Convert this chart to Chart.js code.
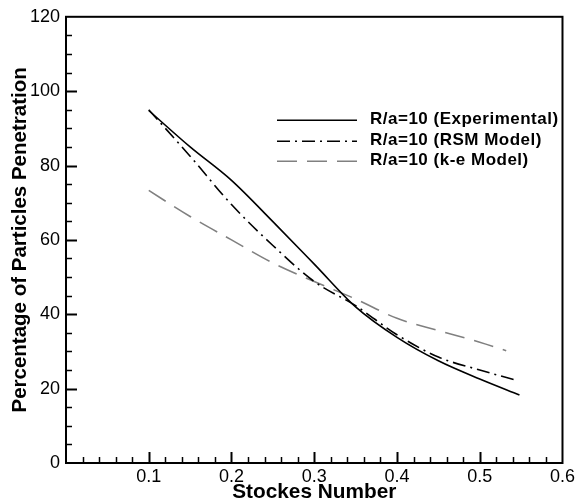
<!DOCTYPE html>
<html>
<head>
<meta charset="utf-8">
<script src="https://cdn.jsdelivr.net/npm/chart.js@4.4.1/dist/chart.umd.min.js"></script>
<style>
html,body{margin:0;padding:0;background:#fff;}
#wrap{width:578px;height:504px;}
</style>
</head>
<body>
<div id="wrap"><canvas id="c" width="578" height="504"></canvas></div>
<script>
// ---- data ----
const stokesExp = [0.1, 0.15, 0.2, 0.25, 0.3, 0.35, 0.4, 0.45, 0.5, 0.548];
const penExp    = [94.8, 85, 76, 64.9, 53.5, 42, 33.8, 27.5, 22.6, 18.3];

const stokesRSM = [0.1, 0.15, 0.2, 0.25, 0.3, 0.35, 0.4, 0.45, 0.5, 0.542];
const penRSM    = [95, 82.5, 69.5, 58.5, 48.8, 42.3, 34.5, 28.5, 25, 22.4];

const stokesKE  = [0.1, 0.15, 0.2, 0.25, 0.3, 0.35, 0.4, 0.45, 0.5, 0.532];
const penKE     = [73.3, 66.3, 60, 53.8, 48.8, 44.1, 38.9, 35.6, 32.5, 30.2];

const seriesLabels = ['R/a=10 (Experimental)', 'R/a=10 (RSM Model)', 'R/a=10 (k-e Model)'];
const xTickValues = [0.1, 0.2, 0.3, 0.4, 0.5, 0.6];
const yTickValues = [0, 20, 40, 60, 80, 100, 120];

const toPts = (xs, ys) => xs.map((x, i) => ({x: x, y: ys[i]}));

const styles = [
  {color: '#000000', dash: [], width: 1.6},
  {color: '#000000', dash: [13, 5, 2, 5], width: 1.6},
  {color: '#808080', dash: [20, 10], width: 1.6}
];

const FONT = '"Liberation Sans", Arial, sans-serif';

const frameTicks = {
  id: 'frameTicks',
  afterDraw(chart) {
    const {ctx, chartArea: a, scales: {x, y}} = chart;
    ctx.save();
    ctx.strokeStyle = '#000';
    for (let i = 1; i < 30; i++) {
      const v = i * 0.02;
      const px = Math.round(x.getPixelForValue(v)) + 0.5;
      const major = (i % 5 === 0);
      const len = major ? 11 : 6;
      ctx.lineWidth = major ? 2 : 1.5;
      ctx.beginPath();
      ctx.moveTo(px, a.bottom);
      ctx.lineTo(px, a.bottom - len);
      ctx.stroke();
    }
    for (let i = 1; i < 24; i++) {
      const v = i * 5;
      const py = Math.round(y.getPixelForValue(v)) + 0.5;
      const major = (i % 4 === 0);
      const len = major ? 11 : 6;
      ctx.lineWidth = major ? 2 : 1.5;
      ctx.beginPath();
      ctx.moveTo(a.left, py);
      ctx.lineTo(a.left + len, py);
      ctx.stroke();
    }
    ctx.lineWidth = 2;
    ctx.strokeRect(a.left, a.top, a.right - a.left, a.bottom - a.top);

    // legend
    const lx0 = a.left + 211, lx1 = a.left + 291, tx = a.left + 304;
    const rows = [a.top + 103, a.top + 124, a.top + 144];
    ctx.font = 'bold 17px ' + FONT;
    try { ctx.letterSpacing = '0.5px'; } catch (e) {}
    ctx.textBaseline = 'middle';
    ctx.textAlign = 'left';
    rows.forEach((ry, i) => {
      const s = styles[i];
      ctx.strokeStyle = s.color;
      ctx.lineWidth = s.width;
      ctx.setLineDash(s.dash);
      ctx.beginPath();
      ctx.moveTo(lx0, ry + 0.5);
      ctx.lineTo(lx1, ry + 0.5);
      ctx.stroke();
      ctx.setLineDash([]);
      ctx.fillStyle = '#000';
      ctx.fillText(seriesLabels[i], tx, ry);
    });
    ctx.restore();
  }
};

const dsets = [
  toPts(stokesExp, penExp),
  toPts(stokesRSM, penRSM),
  toPts(stokesKE, penKE)
].map((d, i) => ({
  label: seriesLabels[i],
  data: d,
  borderColor: styles[i].color,
  borderDash: styles[i].dash,
  borderWidth: styles[i].width,
  pointRadius: 0,
  fill: false,
  cubicInterpolationMode: 'monotone'
}));

new Chart(document.getElementById('c'), {
  type: 'line',
  data: {datasets: dsets},
  options: {
    responsive: false,
    animation: false,
    layout: {padding: {top: 14, right: 13, left: 0, bottom: 0}},
    plugins: {legend: {display: false}, tooltip: {enabled: false}},
    scales: {
      x: {
        type: 'linear', min: 0, max: 0.6,
        afterBuildTicks(s) { s.ticks = xTickValues.map(v => ({value: v})); },
        afterFit(s) { s.height = 41; },
        grid: {display: false, drawTicks: false, tickLength: 0},
        border: {display: false},
        ticks: {
          color: '#000', padding: 3, maxRotation: 0, autoSkip: false,
          font: {family: FONT, size: 18},
          callback: v => v.toFixed(1)
        },
        title: {
          display: true, text: 'Stockes Number', color: '#000',
          padding: {top: 0, bottom: -1},
          font: {family: FONT, size: 20.8, weight: 'bold'}
        }
      },
      y: {
        type: 'linear', min: 0, max: 120,
        afterBuildTicks(s) { s.ticks = yTickValues.map(v => ({value: v})); },
        afterFit(s) { s.width = 66; },
        grid: {display: false, drawTicks: false, tickLength: 0},
        border: {display: false},
        ticks: {
          color: '#000', padding: 6, autoSkip: false,
          font: {family: FONT, size: 18}
        },
        title: {
          display: true, text: 'Percentage of Particles Penetration', color: '#000',
          padding: {top: 8, bottom: 0},
          font: {family: FONT, size: 20.5, weight: 'bold'}
        }
      }
    }
  },
  plugins: [frameTicks]
});
</script>
</body>
</html>
